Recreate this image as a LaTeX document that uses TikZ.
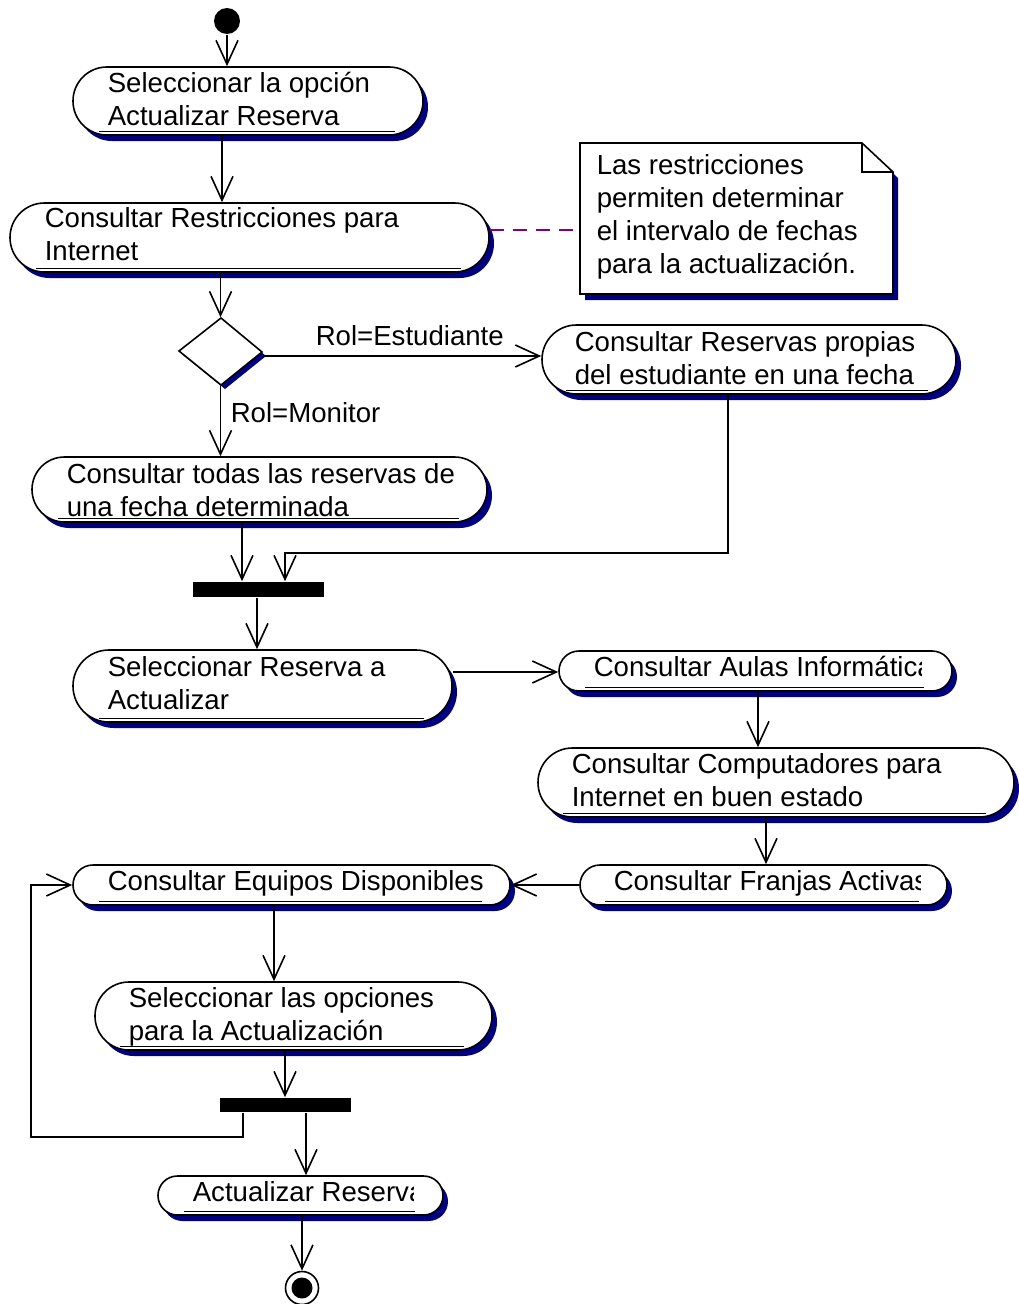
\documentclass[tikz,border=0pt]{standalone}
\usepackage{fontspec}
\setmainfont{Liberation Sans}
\usetikzlibrary{arrows.meta,fit}
\definecolor{shadowc}{HTML}{000080}
\definecolor{notec}{HTML}{800080}
\newcommand\actbox[6]{%
  \pgfmathsetmacro\actR{(#5-#3)/2-0.05}%
  \fill[shadowc, rounded corners=\actR pt] (#2+5,#3+6) rectangle (#4+5,#5+6);
  \draw[fill=white, rounded corners=\actR pt] (#2,#3) rectangle (#4,#5);
  \draw[line width=1.2pt] (#6-9,#5-3.6) -- (#4-28,#5-3.6);
  \node[fit={(#2,#3) (#4,#5)}, inner sep=0pt] (#1) {};
}
\newcommand\twol[2]{\vtop{\hbox{#1}\hbox{#2}}}
\begin{document}
\begin{tikzpicture}[x=1pt,y=-1pt, line width=1.6pt,
  txt/.style={inner sep=0pt, anchor=base west, font=\fontsize{27.6}{33}\selectfont},
  arr/.style={-{Straight Barb[length=24pt,width=22pt]}},
  barnode/.style={fill=black, draw=none, inner sep=0pt, minimum width=131pt},
  notelink/.style={draw=notec, dash pattern=on 14pt off 9pt, line width=1.4pt}]
\useasboundingbox (0,0) rectangle (1019,1304);

% start
\node[circle, fill=black, minimum size=26pt, inner sep=0pt] (start) at (227,21) {};

% activities
\actbox{n1}{73}{67}{423}{135}{108}
\node[txt] (t1) at (107,92) {\twol{Seleccionar la opción}{Actualizar Reserva}};

\actbox{n2}{10}{203}{489}{272}{45}
\node[txt] (t2) at (44,227) {\twol{Consultar Restricciones para}{Internet}};

% note
\fill[shadowc] (585,149) -- (867,149) -- (898,178) -- (898,300) -- (585,300) -- cycle;
\draw[fill=white] (580,143) -- (862,143) -- (893,172) -- (893,294) -- (580,294) -- cycle;
\draw (862,143) -- (862,172) -- (893,172);
\node[fit={(580,143) (893,294)}, inner sep=0pt] (note) {};
\node[txt] (tn) at (596,174) {\vtop{\hbox{Las restricciones}\hbox{permiten determinar}\hbox{el intervalo de fechas}\hbox{para la actualización.}}};
\draw[notelink] (n2.east |- 0,230) -- (note.west |- 0,230);

% decision
\fill[shadowc] (225,322) -- (266,356) -- (225,389) -- (183,355) -- cycle;
\draw[fill=white] (221,318) -- (262,352) -- (221,385) -- (179,351) -- cycle;
\node[fit={(179,318) (262,385)}, inner sep=0pt] (d) {};

\actbox{n3}{542}{325}{956}{394}{575}
\node[txt] (t3) at (574,351) {\twol{Consultar Reservas propias}{del estudiante en una fecha}};

\actbox{n4}{32}{457}{487}{522}{67}
\node[txt] (t4) at (66,483) {\twol{Consultar todas las reservas de}{una fecha determinada}};

% bar 1
\node[barnode, minimum height=15pt] (b1) at (258.5,589.5) {};

\actbox{n5}{73}{650}{452}{722}{108}
\node[txt] (t5) at (107,676) {\twol{Seleccionar Reserva a}{Actualizar}};

\actbox{n6}{559}{651}{952}{691}{594}
\begin{scope}
  \clip (559,640) rectangle (921,700);
  \node[txt] (t6) at (593,676) {Consultar Aulas Informáticas};
\end{scope}

\actbox{n7}{538}{748}{1014}{817}{572}
\node[txt] (t7) at (571,773) {\twol{Consultar Computadores para}{Internet en buen estado}};

\actbox{n8}{580}{865}{947}{905}{614}
\begin{scope}
  \clip (580,855) rectangle (920,915);
  \node[txt] (t8) at (613,890) {Consultar Franjas Activas};
\end{scope}

\actbox{n9}{73}{865}{510}{905}{108}
\begin{scope}
  \clip (73,855) rectangle (482,915);
  \node[txt] (t9) at (107,890) {Consultar Equipos Disponibles};
\end{scope}

\actbox{n10}{95}{982}{492}{1050}{129}
\node[txt] (t10) at (128,1007) {\twol{Seleccionar las opciones}{para la Actualización}};

% bar 2
\node[barnode, minimum height=14pt] (b2) at (285.5,1105) {};

\actbox{n11}{158}{1176}{443}{1215}{193}
\begin{scope}
  \clip (158,1165) rectangle (413,1225);
  \node[txt] (t11) at (192,1201) {Actualizar Reserva};
\end{scope}

% end
\node[circle, draw=black, fill=white, minimum size=33pt, inner sep=0pt] (end) at (302,1288) {};
\node[circle, fill=black, minimum size=21pt, inner sep=0pt] (endin) at (302,1288) {};

% connectors
\draw[arr] (start) -- (n1.north -| start);
\draw[arr] (n1.south -| 222,0) -- (n2.north -| 222,0);
\draw[arr] (n2.south -| d.north) -- (d.north);
\draw[arr] (d.east |- 0,356) -- (n3.west |- 0,356);
\node[txt] (lbl1) at (315,345) {Rol=Estudiante};
\draw[arr] (d.south) -- (n4.north -| d.south);
\node[txt] (lbl2) at (230,422) {Rol=Monitor};
\draw[arr] (n4.south -| 242,0) -- (b1.north -| 242,0);
\draw[arr] (n3.south -| 728,0) |- (285,553) -- (b1.north -| 285,0);
\draw[arr] (b1.south -| 257,0) -- (n5.north -| 257,0);
\draw[arr] (n5.east |- 0,672) -- (n6.west |- 0,672);
\draw[arr] (n6.south -| 758,0) -- (n7.north -| 758,0);
\draw[arr] (n7.south -| 766,0) -- (n8.north -| 766,0);
\draw[arr] (n8.west |- 0,885) -- (n9.east |- 0,885);
\draw[arr] (n9.south -| 274,0) -- (n10.north -| 274,0);
\draw[arr] (n10.south -| 285,0) -- (b2.north -| 285,0);
\draw[arr] (b2.south -| 243,0) |- (31,1137) |- (n9.west |- 0,885);
\draw[arr] (b2.south -| 306,0) -- (n11.north -| 306,0);
\draw[arr] (n11.south -| 302,0) -- (end.north);
\end{tikzpicture}
\end{document}
